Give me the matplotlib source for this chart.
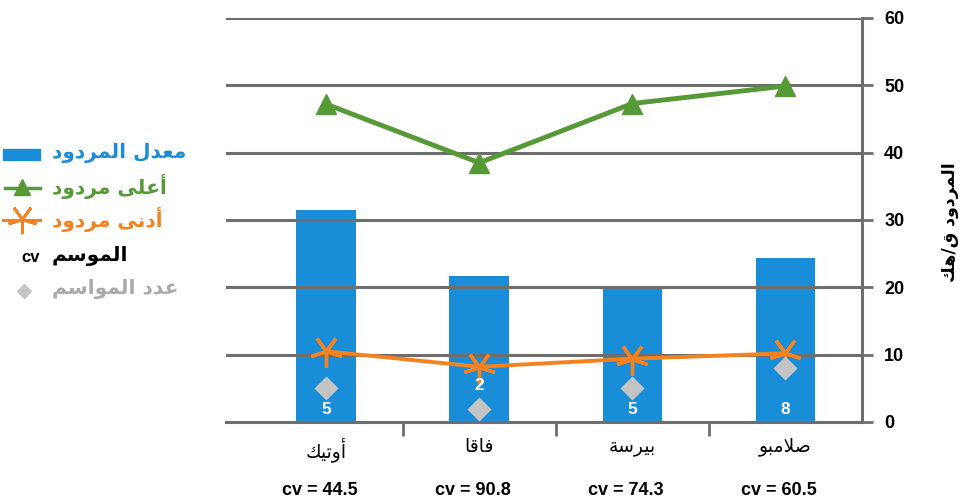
import matplotlib
matplotlib.use("Agg")
import matplotlib.pyplot as plt
import matplotlib.transforms as mtransforms
from matplotlib.patches import Rectangle

# yield by variety (q/ha)
varieties = ["أوتيك", "فاقا", "بيرسة", "صلامبو"]
mean_yield = [31.5, 21.7, 20.0, 24.4]
max_yield = [47.2, 38.5, 47.3, 49.9]
min_yield = [10.5, 8.2, 9.4, 10.2]
n_seasons = [5, 2, 5, 8]
cv = [44.5, 90.8, 74.3, 60.5]
yticks = [0, 10, 20, 30, 40, 50, 60]

BLUE = "#1a8dd8"
GREEN = "#559a36"
ORANGE = "#f5821f"
GRID = "#6e6e6e"
DIAMOND = "#c4c4c4"

# --- minimal Arabic shaping: contextual presentation forms + visual (RTL) order
FORMS = {
    "ا": (0xFE8D, 0xFE8E), "أ": (0xFE83, 0xFE84), "إ": (0xFE87, 0xFE88),
    "آ": (0xFE81, 0xFE82), "د": (0xFEA9, 0xFEAA), "ذ": (0xFEAB, 0xFEAC),
    "ر": (0xFEAD, 0xFEAE), "ز": (0xFEAF, 0xFEB0), "و": (0xFEED, 0xFEEE),
    "ة": (0xFE93, 0xFE94), "ى": (0xFEEF, 0xFEF0),
}
_dual = {"ب": 0xFE8F, "ت": 0xFE95, "ث": 0xFE99, "ج": 0xFE9D, "ح": 0xFEA1,
         "خ": 0xFEA5, "س": 0xFEB1, "ش": 0xFEB5, "ص": 0xFEB9, "ض": 0xFEBD,
         "ط": 0xFEC1, "ظ": 0xFEC5, "ع": 0xFEC9, "غ": 0xFECD, "ف": 0xFED1,
         "ق": 0xFED5, "ك": 0xFED9, "ل": 0xFEDD, "م": 0xFEE1, "ن": 0xFEE5,
         "ه": 0xFEE9, "ي": 0xFEF1}
for _c, _b in _dual.items():
    FORMS[_c] = (_b, _b + 1, _b + 2, _b + 3)
LAM_ALEF = {"ا": 0xFEFB, "أ": 0xFEF7, "إ": 0xFEF9, "آ": 0xFEF5}


def ar(s):
    tokens = []
    i = 0
    while i < len(s):
        c = s[i]
        if c == "ل" and i + 1 < len(s) and s[i + 1] in LAM_ALEF:
            b = LAM_ALEF[s[i + 1]]
            tokens.append((c, (b, b + 1)))
            i += 2
        else:
            tokens.append((c, FORMS.get(c)))
            i += 1
    out = []
    for k, (c, f) in enumerate(tokens):
        if f is None:
            out.append(c)
            continue
        prev = tokens[k - 1][1] if k > 0 else None
        nxt = tokens[k + 1][1] if k + 1 < len(tokens) else None
        jp = prev is not None and len(prev) == 4
        jn = len(f) == 4 and nxt is not None
        if jp and jn:
            cp = f[3]
        elif jp:
            cp = f[1]
        elif jn:
            cp = f[2]
        else:
            cp = f[0]
        out.append(chr(cp))
    return "".join(reversed(out))


plt.rcParams["font.family"] = ["DejaVu Sans"]

fig = plt.figure(figsize=(9.7, 5.03), dpi=100)
W, H = 970, 503
ax = fig.add_axes([226 / W, 1 - 422 / H, (862 - 226) / W, (422 - 18) / H])

x = list(range(len(varieties)))

ax.bar(x, mean_yield, width=0.39, color=BLUE, zorder=2)
ax.plot(x, max_yield, color=GREEN, lw=3.5, marker="^", ms=15, zorder=4)
ax.plot(x, min_yield, color=ORANGE, lw=2.8, marker=(5, 2, 180), ms=23,
        mew=2.4, mec=ORANGE, zorder=4)
ax.scatter(x, n_seasons, marker="D", s=150, color=DIAMOND, zorder=5, linewidths=0)

for xi, n in zip(x, n_seasons):
    ty = n + 3.4 if n < 3 else 1.9
    ax.text(xi, ty, str(n), color="white", fontsize=12.5, fontweight="bold",
            ha="center", va="center", zorder=6, family="Liberation Sans")

ax.set_ylim(0, 60)
ax.set_xlim(-0.655, 3.5)
ax.set_yticks(yticks)
ax.yaxis.tick_right()
ax.tick_params(axis="y", length=8, width=2, color=GRID, pad=8,
               labelsize=13)
for lab in ax.get_yticklabels():
    lab.set_fontweight("bold")
    lab.set_family("Liberation Sans")
ax.grid(axis="y", color=GRID, lw=2.2, zorder=3)
ax.set_axisbelow(False)

# category boundaries carry the tick marks, names sit between them
ax.set_xticks([0.5, 1.5, 2.5])
ax.set_xticklabels([])
ax.tick_params(axis="x", which="major", length=10, width=2, color=GRID,
               direction="out")
ax.set_xticks(x, minor=True)
ax.set_xticklabels([ar(v) for v in varieties], minor=True, fontsize=13.5)
ax.tick_params(axis="x", which="minor", length=0, pad=11)

for side in ["top", "left"]:
    ax.spines[side].set_visible(False)
ax.spines["right"].set_color(GRID)
ax.spines["right"].set_linewidth(2.2)
ax.spines["bottom"].set_color(GRID)
ax.spines["bottom"].set_linewidth(2.2)

blend = mtransforms.blended_transform_factory(ax.transData, ax.transAxes)
for xi, c in zip(x, cv):
    ax.text(xi - 0.04, -0.17, f"cv = {c}", transform=blend, ha="center",
            va="center", fontsize=13, fontweight="bold",
            family="Liberation Sans")

fig.text(950 / W, 1 - 222 / H, ar("المردود ق/هك"), rotation=90,
         ha="center", va="center", fontsize=12.5, fontweight="bold")

# legend drawn in pixel space on the left
lax = fig.add_axes([0, 0, 1, 1], zorder=-1)
lax.set_xlim(0, W)
lax.set_ylim(H, 0)
lax.axis("off")

lax.add_patch(Rectangle((3, 149), 37, 11, color=BLUE))
lax.plot([5, 40], [188, 188], color=GREEN, lw=2.5)
lax.plot([22], [187], marker="^", color=GREEN, ms=12)
lax.plot([3, 40], [220, 220], color=ORANGE, lw=2.2)
lax.plot([22], [219], marker=(5, 2, 180), color=ORANGE, ms=21, mew=2)
lax.text(31, 258, "cv", fontsize=12, fontweight="bold", ha="center",
         va="center", family="Liberation Sans")
lax.plot([24], [291], marker="D", color=DIAMOND, ms=7)

legend_rows = [("معدل المردود", BLUE, 153), ("أعلى مردود", GREEN, 186),
               ("أدنى مردود", ORANGE, 219), ("الموسم", "black", 256),
               ("عدد المواسم", "#a9a9a9", 289)]
for label, col, ypx in legend_rows:
    lax.text(52, ypx, ar(label), color=col, fontsize=14.5, fontweight="bold",
             ha="left", va="center")

fig.savefig("out.png", dpi=100)
